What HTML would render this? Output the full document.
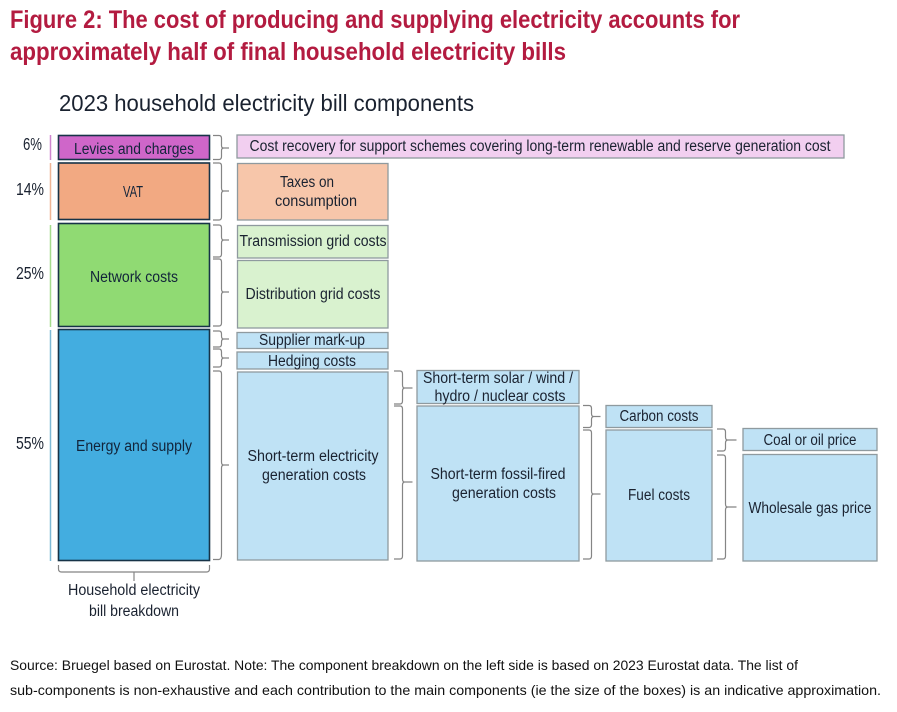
<!DOCTYPE html>
<html><head><meta charset="utf-8">
<style>
html,body{margin:0;padding:0;background:#fff}
svg{display:block}
text{font-family:"Liberation Sans",sans-serif;fill:#1a2230}
.t{font-size:15.500px;text-anchor:middle}
.m{font-size:15.500px;text-anchor:middle;fill:#12243a}
.h{font-size:25px;font-weight:bold;fill:#b31b40}
.f{font-size:14px;fill:#111}
.p{font-size:17.500px}
.b{fill:none;stroke:#858585;stroke-width:1.2}
.box{stroke:#8f9a9f;stroke-width:1.3}
.main{stroke:#173347;stroke-width:1.6}
</style></head><body>
<svg width="897" height="712" viewBox="0 0 897 712" xmlns="http://www.w3.org/2000/svg">
<rect width="897" height="712" fill="#fff"/>
<text class="h" x="10" y="28" textLength="730" lengthAdjust="spacingAndGlyphs">Figure 2: The cost of producing and supplying electricity accounts for</text>
<text class="h" x="10" y="60" textLength="556" lengthAdjust="spacingAndGlyphs">approximately half of final household electricity bills</text>
<text x="59" y="111" font-size="23.500" textLength="415" lengthAdjust="spacingAndGlyphs">2023 household electricity bill components</text>

<!-- percentages -->
<text class="p" x="23" y="150" textLength="19" lengthAdjust="spacingAndGlyphs">6%</text>
<text class="p" x="16" y="195" textLength="28" lengthAdjust="spacingAndGlyphs">14%</text>
<text class="p" x="16" y="279" textLength="28" lengthAdjust="spacingAndGlyphs">25%</text>
<text class="p" x="16" y="449" textLength="28" lengthAdjust="spacingAndGlyphs">55%</text>

<!-- side lines -->
<g stroke-width="1.5">
<line x1="50.5" y1="135" x2="50.5" y2="160" stroke="#cf86cf"/>
<line x1="50.5" y1="163" x2="50.5" y2="220" stroke="#efb595"/>
<line x1="50.5" y1="225" x2="50.5" y2="327" stroke="#a5dc8d"/>
<line x1="50.5" y1="330" x2="50.5" y2="561" stroke="#7cb9d6"/>
</g>

<!-- main stack -->
<rect class="main" x="58.5" y="135.5" width="151" height="24" fill="#cf66c9"/>
<rect class="main" x="58.5" y="163" width="151" height="56.5" fill="#f2a982"/>
<rect class="main" x="58.5" y="223.5" width="151" height="103" fill="#90da73"/>
<rect class="main" x="58.5" y="329.5" width="151" height="231" fill="#43ade0"/>

<!-- sub boxes -->
<rect class="box" x="237" y="135" width="607" height="23" fill="#f2cff0" stroke="#c9b4c9"/>
<rect class="box" x="237.5" y="163.5" width="150.5" height="56.5" fill="#f7c6aa"/>
<rect class="box" x="237.5" y="225.5" width="150.5" height="32.5" fill="#d9f2cf"/>
<rect class="box" x="237.5" y="260.5" width="150.5" height="67.5" fill="#d9f2cf"/>
<rect class="box" x="237" y="332.5" width="151" height="16" fill="#bfe2f5"/>
<rect class="box" x="237" y="352" width="151" height="17" fill="#bfe2f5"/>
<rect class="box" x="237.5" y="372" width="150.5" height="188" fill="#bfe2f5"/>
<rect class="box" x="417" y="370.5" width="162" height="33" fill="#bfe2f5"/>
<rect class="box" x="417" y="406" width="162" height="155" fill="#bfe2f5"/>
<rect class="box" x="606" y="405.5" width="106" height="22" fill="#bfe2f5"/>
<rect class="box" x="606" y="430" width="106" height="131" fill="#bfe2f5"/>
<rect class="box" x="743" y="428.5" width="134" height="22" fill="#bfe2f5"/>
<rect class="box" x="743" y="454.5" width="134" height="106.5" fill="#bfe2f5"/>

<!-- braces -->
<g class="b">
<path d="M213 135.5h6q2.500 0 2.500 3v7q0 2.500 2 2.500h5.500M224 148q-2.500 0-2.500 2.500v6q0 3-2.500 3h-6"/>
<path d="M213 163h6q2.500 0 2.500 3v22q0 3 2 3h5.500M224 191q-2.500 0-2.500 3v23q0 3-2.500 3h-6"/>
<path d="M213 225h6q2.500 0 2.500 3v9q0 3 2 3h5.500M224 240q-2.500 0-2.500 3v11q0 3-2.500 3h-6"/>
<path d="M213 259h6q2.500 0 2.500 3v27q0 3 2 3h5.500M224 292q-2.500 0-2.500 3v28q0 3-2.500 3h-6"/>
<path d="M213 331h6q2.500 0 2.500 3v2q0 3 2 3h5.500M224 339q-2.500 0-2.500 3v2q0 3-2.500 3h-6"/>
<path d="M213 349h6q2.500 0 2.500 3v3q0 3 2 3h5.500M224 358q-2.500 0-2.500 3v3q0 3-2.500 3h-6"/>
<path d="M213 371h6q2.500 0 2.500 3v88q0 3 2 3h5.500M224 465q-2.500 0-2.500 3v86q0 5-2.500 5.500h-6"/>
<path d="M394 371h6q2.500 0 2.500 3v11q0 3 2 3h8M405 388q-2.500 0-2.500 3v10q0 3-2.500 3h-6"/>
<path d="M394 406h6q2.500 0 2.500 3v70q0 3 2 3h8M405 482q-2.500 0-2.500 3v71q0 3-2.500 3h-6"/>
<path d="M583 405.500h6q2.500 0 2.500 3v5q0 3 2 3h7M594 416.500q-2.500 0-2.500 3v5q0 3-2.500 3h-6"/>
<path d="M583 430h6q2.500 0 2.500 3v58q0 3 2 3h7M594 494q-2.500 0-2.500 3v59q0 3-2.500 3h-6"/>
<path d="M717 429h6q2.500 0 2.500 3v5q0 3 2 3h9M728 440q-2.500 0-2.500 3v5q0 3-2.500 3h-6"/>
<path d="M717 455h6q2.500 0 2.500 3v46q0 3 2 3h9M728 507q-2.500 0-2.500 3v46q0 3-2.500 3h-6"/>
<path d="M58.500 565v4q0 3 3 3h145q3 0 3-3v-4M134 572v9"/>
</g>

<!-- main labels -->
<text class="m" x="134" y="154" textLength="120" lengthAdjust="spacingAndGlyphs">Levies and charges</text>
<text class="m" x="133" y="197" textLength="20" lengthAdjust="spacingAndGlyphs">VAT</text>
<text class="m" x="134" y="282" textLength="88" lengthAdjust="spacingAndGlyphs">Network costs</text>
<text class="m" x="134" y="451" textLength="116" lengthAdjust="spacingAndGlyphs">Energy and supply</text>

<!-- sub labels -->
<text class="t" x="540" y="151" textLength="581" lengthAdjust="spacingAndGlyphs">Cost recovery for support schemes covering long-term renewable and reserve generation cost</text>
<text class="t" x="307" y="187" textLength="54" lengthAdjust="spacingAndGlyphs">Taxes on</text>
<text class="t" x="316" y="206" textLength="82" lengthAdjust="spacingAndGlyphs">consumption</text>
<text class="t" x="313" y="246" textLength="147" lengthAdjust="spacingAndGlyphs">Transmission grid costs</text>
<text class="t" x="313" y="299" textLength="135" lengthAdjust="spacingAndGlyphs">Distribution grid costs</text>
<text class="t" x="312" y="345" textLength="106" lengthAdjust="spacingAndGlyphs">Supplier mark-up</text>
<text class="t" x="312" y="366" textLength="88" lengthAdjust="spacingAndGlyphs">Hedging costs</text>
<text class="t" x="313" y="461" textLength="131" lengthAdjust="spacingAndGlyphs">Short-term electricity</text>
<text class="t" x="314" y="480" textLength="104" lengthAdjust="spacingAndGlyphs">generation costs</text>
<text class="t" x="498" y="383" textLength="150" lengthAdjust="spacingAndGlyphs">Short-term solar / wind /</text>
<text class="t" x="500" y="401" textLength="131" lengthAdjust="spacingAndGlyphs">hydro / nuclear costs</text>
<text class="t" x="498" y="479" textLength="135" lengthAdjust="spacingAndGlyphs">Short-term fossil-fired</text>
<text class="t" x="504" y="498" textLength="104" lengthAdjust="spacingAndGlyphs">generation costs</text>
<text class="t" x="659" y="421" textLength="79" lengthAdjust="spacingAndGlyphs">Carbon costs</text>
<text class="t" x="659" y="500" textLength="62" lengthAdjust="spacingAndGlyphs">Fuel costs</text>
<text class="t" x="810" y="445" textLength="93" lengthAdjust="spacingAndGlyphs">Coal or oil price</text>
<text class="t" x="810" y="513" textLength="123" lengthAdjust="spacingAndGlyphs">Wholesale gas price</text>

<text class="t" x="134" y="595" textLength="132" lengthAdjust="spacingAndGlyphs">Household electricity</text>
<text class="t" x="134" y="616" textLength="90" lengthAdjust="spacingAndGlyphs">bill breakdown</text>

<!-- footer -->
<text class="f" x="10" y="670" textLength="788" lengthAdjust="spacingAndGlyphs">Source: Bruegel based on Eurostat. Note: The component breakdown on the left side is based on 2023 Eurostat data. The list of</text>
<text class="f" x="10" y="695" textLength="871" lengthAdjust="spacingAndGlyphs">sub-components is non-exhaustive and each contribution to the main components (ie the size of the boxes) is an indicative approximation.</text>
</svg>
</body></html>
